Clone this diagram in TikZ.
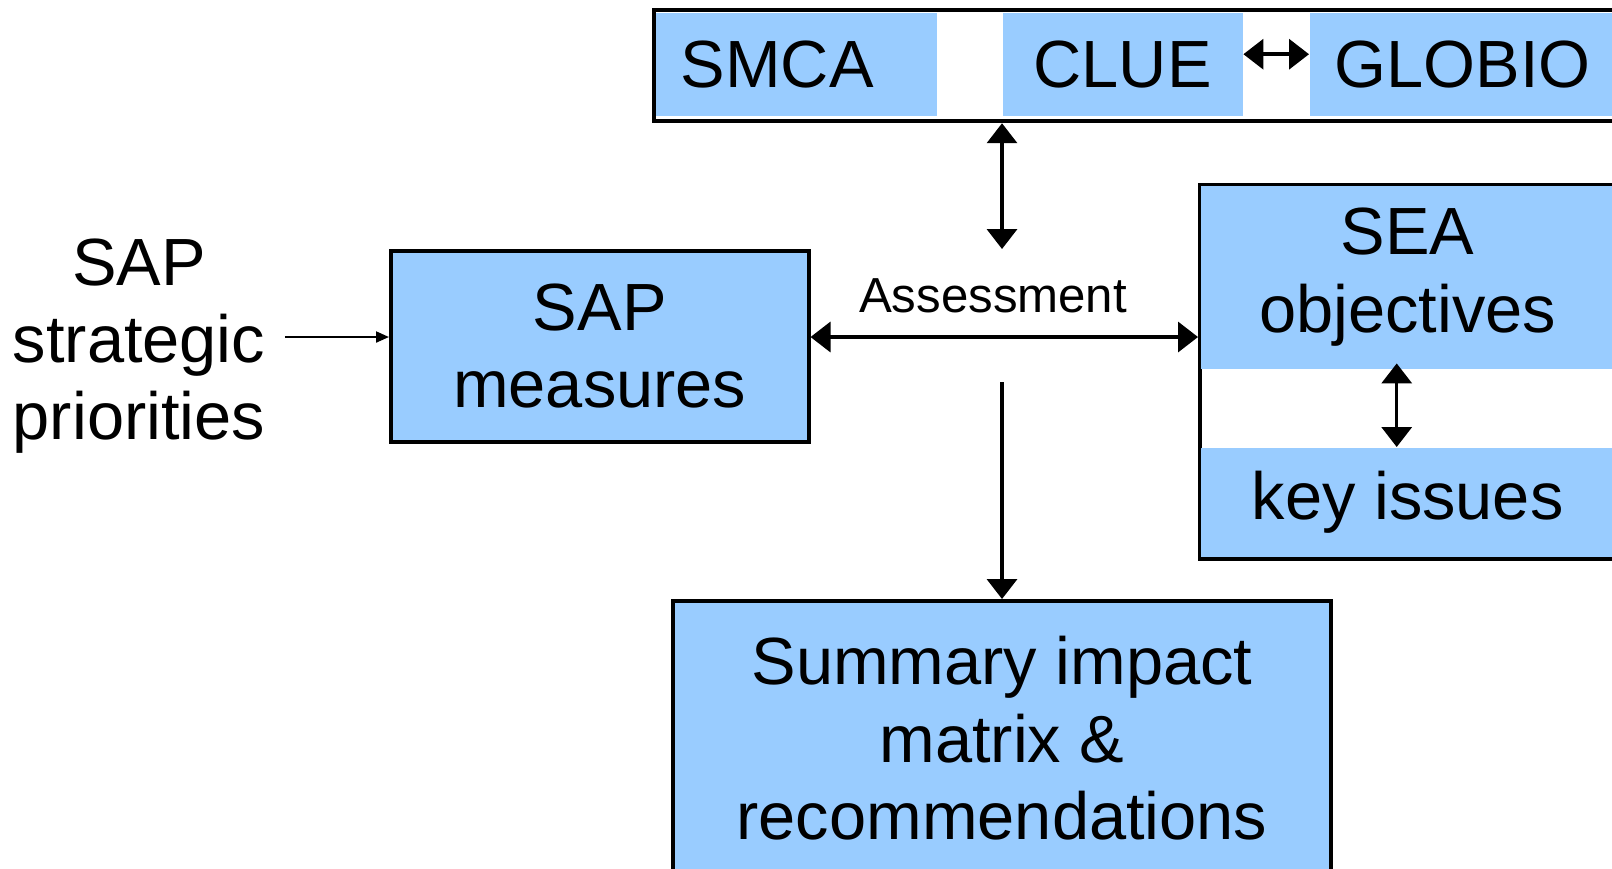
\documentclass[tikz,border=0pt]{standalone}
\usepackage{fontspec}
\setmainfont{Liberation Sans}
\usepackage{xcolor}
\usetikzlibrary{arrows.meta}
\definecolor{boxblue}{RGB}{153,204,255}
\newcommand{\boxfont}{\fontsize{19}{22}\selectfont}
\newcommand{\lblfont}{\fontsize{14}{16}\selectfont}

\begin{document}
\begin{tikzpicture}[x=1mm,y=1mm]
\tikzstyle{every node}+=[inner sep=0pt]
\tikzstyle{cell}=[fill=boxblue, anchor=north west, font=\boxfont]
\tikzstyle{frame}=[draw=black, line width=1.2pt, anchor=north west]
\tikzstyle{bold arrow}=[line width=1pt, {Triangle[length=2mm,width=3mm]}-{Triangle[length=2mm,width=3mm]}]
\tikzstyle{down arrow}=[line width=1pt, -{Triangle[length=2mm,width=3mm]}]
\tikzstyle{thin arrow}=[line width=0.6pt, -{Triangle[length=1.3mm,width=1.1mm]}]
\useasboundingbox (0,0) rectangle (161.2,-86.8);
\clip (0,0) rectangle (161.2,-86.8);
\node[frame, minimum width=100mm, minimum height=11.1mm] (tools) at (65.2,-0.8) {};
\node[cell, minimum width=28.1mm, minimum height=10.3mm, inner xsep=2.5mm, text width=23.1mm, align=left] (smca) at (65.5,-1.2) {SMCA};
\node[cell, minimum width=24mm, minimum height=10.3mm] (clue) at (100.2,-1.2) {CLUE};
\node[cell, minimum width=33mm, minimum height=10.3mm, inner xsep=2.5mm, text width=28mm, align=left] (globio) at (130.9,-1.2) {GLOBIO};
\draw[bold arrow] ([yshift=1mm]clue.east) -- ([yshift=1mm]globio.west);
\coordinate (assess) at (100.2,-33.7);
\coordinate (uptip) at (100.2,-24.9);
\coordinate (downtail) at (100.2,-38.2);
\node[font=\boxfont, align=center, inner xsep=1.9mm] (prio) at (13.9,-34.6) {SAP\\strategic\\priorities};
\node[cell, draw=black, line width=1pt, minimum width=41.8mm, minimum height=19.1mm, align=center] (sapm) at (38.9,-24.9) {SAP\\measures};
\node[font=\lblfont] (assesslbl) at (99.3,-29.6) {Assessment};
\node[frame, line width=1pt, minimum width=45mm, minimum height=37.4mm] (seaframe) at (119.8,-18.3) {};
\node[cell, minimum width=41.4mm, minimum height=18.3mm, align=center] (seaobj) at (120.0,-18.5) {SEA\\objectives};
\node[cell, minimum width=41.4mm, minimum height=10.9mm] (keyiss) at (120.0,-44.7) {key issues};
\node[cell, draw=black, line width=1pt, minimum width=65.8mm, minimum height=27.5mm, align=center, anchor=north] (summary) at (100.2,-59.9) {Summary impact\\matrix \&\\recommendations};
\draw[thin arrow] (prio.east |- assess) -- (sapm.west |- assess);
\draw[bold arrow] (tools.south -| assess) -- (uptip);
\draw[bold arrow] (sapm.east |- assess) -- (seaframe.west |- assess);
\draw[down arrow] (downtail) -- (summary.north);
\draw[bold arrow] ([xshift=-1.1mm,yshift=0.6mm]seaobj.south) -- ([xshift=-1.1mm]keyiss.north);
\end{tikzpicture}
\end{document}
